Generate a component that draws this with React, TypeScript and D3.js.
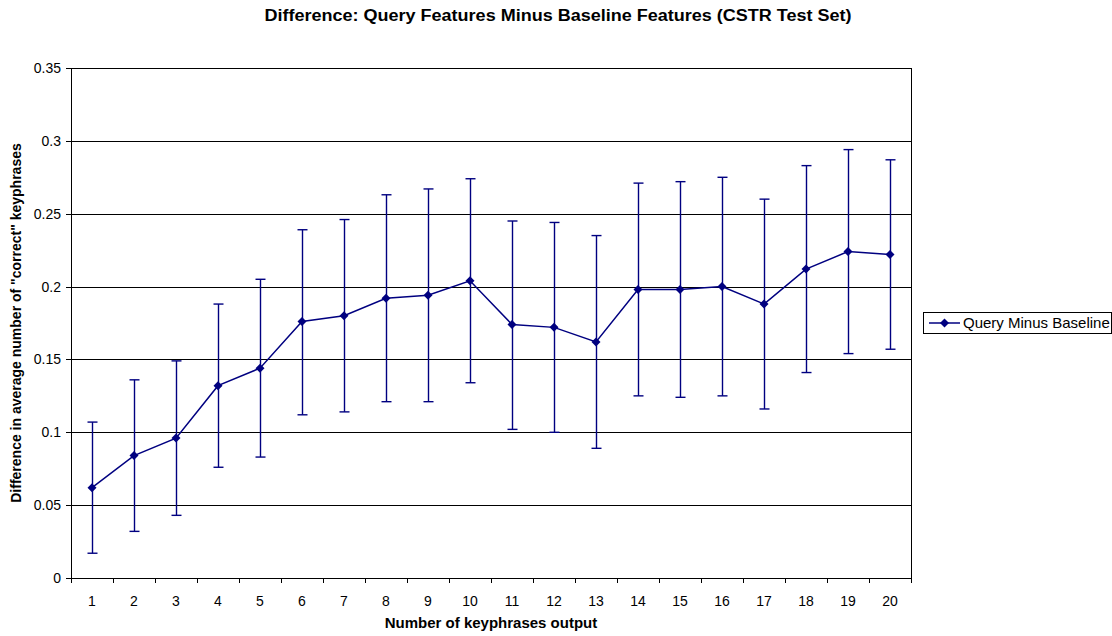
import React from "react";
import * as d3 from "d3";

const categories = ["1","2","3","4","5","6","7","8","9","10","11","12","13","14","15","16","17","18","19","20"];
const values = [0.062,0.084,0.096,0.132,0.144,0.176,0.180,0.192,0.194,0.204,0.174,0.172,0.162,0.198,0.198,0.200,0.188,0.212,0.224,0.222];
const errHigh = [0.107,0.136,0.149,0.188,0.205,0.239,0.246,0.263,0.267,0.274,0.245,0.244,0.235,0.271,0.272,0.275,0.260,0.283,0.294,0.287];
const errLow = [0.017,0.032,0.043,0.076,0.083,0.112,0.114,0.121,0.121,0.134,0.102,0.100,0.089,0.125,0.124,0.125,0.116,0.141,0.154,0.157];
const yTicks = [0,0.05,0.1,0.15,0.2,0.25,0.3,0.35];
const yTickLabels = ["0","0.05","0.1","0.15","0.2","0.25","0.3","0.35"];
const seriesName = "Query Minus Baseline";

const W = 1112, H = 636;
const L = 71, R = 911, T = 68, B = 578;
const NAVY = "#000080";
const FONT = "Arial, 'Liberation Sans', sans-serif";

export default function App() {
  const x = d3.scaleBand<string>().domain(categories).range([L, R]).padding(0);
  const y = d3.scaleLinear().domain([0, 0.35]).range([B, T]);
  const cx = (i: number) => (x(categories[i]) as number) + x.bandwidth() / 2;
  const line = d3.line<number>().x((_, i) => cx(i)).y((d) => y(d));
  const diamond = (px: number, py: number, s = 4.5) =>
    `M${px},${py - s}L${px + s},${py}L${px},${py + s}L${px - s},${py}Z`;

  return (
    <svg width={W} height={H} style={{ position: "absolute", left: 0, top: 0, background: "#fff" }} fontFamily={FONT}>
      <rect x={0} y={0} width={W} height={H} fill="#fff" />
      <text x={558} y={21} textAnchor="middle" fontSize={16} fontWeight="bold" textLength={587} lengthAdjust="spacingAndGlyphs">
        Difference: Query Features Minus Baseline Features (CSTR Test Set)
      </text>
      {yTicks.map((t, i) => (
        <g key={i}>
          {t > 0 && t < 0.35 && (
            <line x1={L} x2={R} y1={Math.round(y(t)) + 0.5} y2={Math.round(y(t)) + 0.5} stroke="#000" strokeWidth={1} />
          )}
          <line x1={L - 5} x2={L} y1={Math.round(y(t)) + 0.5} y2={Math.round(y(t)) + 0.5} stroke="#000" />
          <text x={L - 10} y={y(t) + 5} textAnchor="end" fontSize={14}>{yTickLabels[i]}</text>
        </g>
      ))}
      <rect x={L + 0.5} y={T + 0.5} width={R - L} height={B - T} fill="none" stroke="#000" strokeWidth={1} />
      {categories.map((c, i) => {
        const bx = Math.round(x(c) as number) + 0.5;
        return (
          <g key={c}>
            <line x1={bx} x2={bx} y1={B} y2={B + 5} stroke="#000" />
            <text x={cx(i)} y={B + 28} textAnchor="middle" fontSize={14}>{c}</text>
          </g>
        );
      })}
      <line x1={R + 0.5} x2={R + 0.5} y1={B} y2={B + 5} stroke="#000" />
      {categories.map((c, i) => {
        const px = Math.round(cx(i)) + 0.5;
        return (
          <g key={"e" + c} stroke={NAVY} strokeWidth={1.4}>
            <line x1={px} x2={px} y1={y(errHigh[i])} y2={y(errLow[i])} />
            <line x1={px - 5} x2={px + 5} y1={y(errHigh[i])} y2={y(errHigh[i])} />
            <line x1={px - 5} x2={px + 5} y1={y(errLow[i])} y2={y(errLow[i])} />
          </g>
        );
      })}
      <path d={line(values) || ""} fill="none" stroke={NAVY} strokeWidth={1.5} />
      {values.map((v, i) => (
        <path key={"m" + i} d={diamond(cx(i), y(v))} fill={NAVY} />
      ))}
      <text x={491} y={628} textAnchor="middle" fontSize={15} fontWeight="bold">Number of keyphrases output</text>
      <text transform={`translate(21,${(T + B) / 2}) rotate(-90)`} textAnchor="middle" fontSize={14} fontWeight="bold">
        Difference in average number of "correct" keyphrases
      </text>
      <rect x={923.5} y={312.5} width={188} height={21} fill="#fff" stroke="#000" />
      <line x1={929} x2={960} y1={323} y2={323} stroke={NAVY} strokeWidth={1.5} />
      <path d={diamond(944.5, 323)} fill={NAVY} />
      <text x={963} y={328} fontSize={15}>{seriesName}</text>
    </svg>
  );
}
